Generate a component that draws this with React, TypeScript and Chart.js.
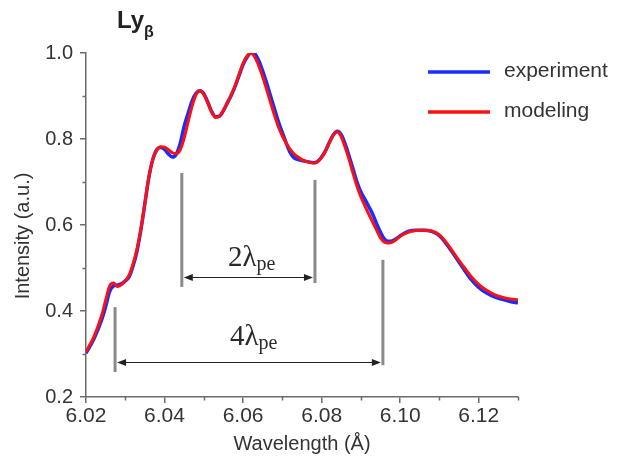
import React, { useEffect, useRef } from "react";
import { Chart, registerables } from "chart.js";
Chart.register(...registerables);

// ---- data ----
const wavelength = [
  6.020, 6.022, 6.024, 6.025, 6.026, 6.027, 6.028, 6.029, 6.030, 6.031, 6.032, 6.033, 6.034, 6.035,
  6.036, 6.037, 6.038, 6.039, 6.040, 6.041, 6.042, 6.043, 6.044, 6.045, 6.046, 6.047, 6.048, 6.049,
  6.050, 6.051, 6.052, 6.053, 6.054, 6.055, 6.056, 6.057, 6.058, 6.059, 6.060, 6.061, 6.062, 6.063,
  6.064, 6.065, 6.066, 6.067, 6.068, 6.069, 6.070, 6.071, 6.072, 6.073, 6.074, 6.075, 6.076, 6.077,
  6.078, 6.079, 6.080, 6.081, 6.082, 6.083, 6.084, 6.085, 6.086, 6.087, 6.088, 6.089, 6.090, 6.091,
  6.092, 6.093, 6.094, 6.095, 6.096, 6.097, 6.098, 6.099, 6.100, 6.102, 6.104, 6.106, 6.108, 6.110,
  6.112, 6.114, 6.116, 6.118, 6.120, 6.122, 6.124, 6.126, 6.128, 6.130,
];

const experiment = [
  0.302, 0.335, 0.380, 0.410, 0.445, 0.458, 0.460, 0.463, 0.470, 0.480, 0.505, 0.540, 0.590, 0.650,
  0.710, 0.752, 0.775, 0.780, 0.776, 0.765, 0.758, 0.765, 0.790, 0.830, 0.860, 0.888, 0.906, 0.912,
  0.905, 0.886, 0.864, 0.852, 0.853, 0.866, 0.884, 0.902, 0.923, 0.948, 0.973, 0.990, 1.000, 0.998,
  0.982, 0.958, 0.930, 0.900, 0.870, 0.840, 0.815, 0.790, 0.768, 0.756, 0.752, 0.750, 0.748, 0.746,
  0.745, 0.748, 0.758, 0.773, 0.793, 0.810, 0.818, 0.810, 0.788, 0.760, 0.730, 0.700, 0.677, 0.660,
  0.643, 0.625, 0.603, 0.583, 0.567, 0.562, 0.563, 0.568, 0.575, 0.585, 0.588, 0.588, 0.585, 0.575,
  0.553, 0.527, 0.500, 0.474, 0.455, 0.442, 0.433, 0.427, 0.422, 0.419,
];

const modeling = [
  0.305, 0.340, 0.390, 0.425, 0.458, 0.465, 0.457, 0.461, 0.470, 0.484, 0.510, 0.545, 0.592, 0.652,
  0.712, 0.752, 0.774, 0.782, 0.781, 0.775, 0.768, 0.766, 0.775, 0.802, 0.840, 0.876, 0.903, 0.912,
  0.903, 0.884, 0.862, 0.850, 0.853, 0.867, 0.884, 0.903, 0.925, 0.951, 0.976, 0.993, 1.000, 0.990,
  0.970, 0.944, 0.915, 0.885, 0.855, 0.828, 0.807, 0.790, 0.776, 0.765, 0.758, 0.752, 0.748, 0.745,
  0.744, 0.747, 0.757, 0.772, 0.792, 0.810, 0.817, 0.805, 0.780, 0.752, 0.720, 0.690, 0.665, 0.645,
  0.625, 0.607, 0.588, 0.570, 0.560, 0.558, 0.560, 0.566, 0.574, 0.583, 0.587, 0.588, 0.586, 0.577,
  0.556, 0.530, 0.505, 0.481, 0.462, 0.448, 0.438, 0.432, 0.428, 0.426,
];

const seriesNames = ["experiment", "modeling"];
const xTickValues = [6.02, 6.04, 6.06, 6.08, 6.1, 6.12];
const xMinorValues = [6.03, 6.05, 6.07, 6.09, 6.11, 6.13];
const yTickValues = [0.2, 0.4, 0.6, 0.8, 1.0];
const yMinorValues = [0.3, 0.5, 0.7, 0.9];

// annotation marks (data coordinates)
const twoLambdaLines = [6.0444, 6.0783];
const twoLambdaTops = [0.721, 0.705];
const twoLambdaBottoms = [0.456, 0.465];
const twoLambdaArrowY = 0.479;
const fourLambdaLines = [6.0274, 6.0956];
const fourLambdaTops = [0.409, 0.519];
const fourLambdaBottoms = [0.258, 0.274];
const fourLambdaArrowY = 0.281;
const labelTwo = { main: "2λ", sub: "pe", x: 6.0622, y: 0.505 };
const labelFour = { main: "4λ", sub: "pe", x: 6.0627, y: 0.321 };

const BLUE = "#1a2cff";
const RED = "#ff1010";
const AXIS = "#6b6b6b";
const TEXT = "#333333";
const SANS = "'Liberation Sans', Arial, sans-serif";
const SERIF = "'Liberation Serif', 'Times New Roman', serif";

const overlay = {
  id: "overlay",
  afterDraw(chart: any) {
    const { ctx, chartArea, scales } = chart;
    const xs = scales.x;
    const ys = scales.y;
    ctx.save();
    // minor ticks
    ctx.strokeStyle = AXIS;
    ctx.lineWidth = 1.5;
    ctx.beginPath();
    for (const v of yMinorValues) {
      const py = Math.round(ys.getPixelForValue(v)) + 0.5;
      ctx.moveTo(chartArea.left - 3.5, py);
      ctx.lineTo(chartArea.left, py);
    }
    for (const v of xMinorValues) {
      const px = Math.round(xs.getPixelForValue(v)) + 0.5;
      ctx.moveTo(px, chartArea.bottom);
      ctx.lineTo(px, chartArea.bottom + 3.5);
    }
    ctx.stroke();

    // vertical marker lines
    ctx.strokeStyle = "#8a8a8a";
    ctx.lineWidth = 3;
    const vlines = (xsv: number[], tops: number[], bots: number[]) => {
      xsv.forEach((xv, i) => {
        const px = xs.getPixelForValue(xv);
        ctx.beginPath();
        ctx.moveTo(px, ys.getPixelForValue(tops[i]));
        ctx.lineTo(px, ys.getPixelForValue(bots[i]));
        ctx.stroke();
      });
    };
    vlines(twoLambdaLines, twoLambdaTops, twoLambdaBottoms);
    vlines(fourLambdaLines, fourLambdaTops, fourLambdaBottoms);

    // double arrows
    const arrow = (x1v: number, x2v: number, yv: number) => {
      const x1 = xs.getPixelForValue(x1v) + 2;
      const x2 = xs.getPixelForValue(x2v) - 2;
      const py = Math.round(ys.getPixelForValue(yv)) + 0.5;
      ctx.strokeStyle = "#222";
      ctx.fillStyle = "#222";
      ctx.lineWidth = 1.2;
      ctx.beginPath();
      ctx.moveTo(x1 + 4, py);
      ctx.lineTo(x2 - 4, py);
      ctx.stroke();
      ctx.beginPath();
      ctx.moveTo(x1, py);
      ctx.lineTo(x1 + 9, py - 3.5);
      ctx.lineTo(x1 + 9, py + 3.5);
      ctx.closePath();
      ctx.fill();
      ctx.beginPath();
      ctx.moveTo(x2, py);
      ctx.lineTo(x2 - 9, py - 3.5);
      ctx.lineTo(x2 - 9, py + 3.5);
      ctx.closePath();
      ctx.fill();
    };
    arrow(twoLambdaLines[0], twoLambdaLines[1], twoLambdaArrowY);
    arrow(fourLambdaLines[0], fourLambdaLines[1], fourLambdaArrowY);

    // lambda labels
    const lambdaLabel = (lab: any) => {
      ctx.fillStyle = "#2a2a2a";
      ctx.textBaseline = "alphabetic";
      ctx.textAlign = "left";
      const mainFont = `29px ${SERIF}`;
      const subFont = `20px ${SERIF}`;
      ctx.font = mainFont;
      const wm = ctx.measureText(lab.main).width;
      ctx.font = subFont;
      const ws = ctx.measureText(lab.sub).width;
      const cx = xs.getPixelForValue(lab.x);
      const by = ys.getPixelForValue(lab.y);
      const sx = cx - (wm + ws) / 2;
      ctx.font = mainFont;
      ctx.fillText(lab.main, sx, by);
      ctx.font = subFont;
      ctx.fillText(lab.sub, sx + wm, by + 4);
    };
    lambdaLabel(labelTwo);
    lambdaLabel(labelFour);

    // legend
    const legendItems = [
      { name: seriesNames[0], color: BLUE, y: 64 },
      { name: seriesNames[1], color: RED, y: 104 },
    ];
    for (const it of legendItems) {
      ctx.strokeStyle = it.color;
      ctx.lineWidth = 3.5;
      ctx.beginPath();
      ctx.moveTo(420, it.y);
      ctx.lineTo(482, it.y);
      ctx.stroke();
      ctx.fillStyle = TEXT;
      ctx.font = `21px ${SANS}`;
      ctx.textBaseline = "middle";
      ctx.textAlign = "left";
      ctx.fillText(it.name, 496, it.y - 1);
    }

    // title Lyβ
    ctx.fillStyle = "#222";
    ctx.textBaseline = "alphabetic";
    ctx.textAlign = "left";
    ctx.font = `bold 24px ${SANS}`;
    ctx.fillText("Ly", 109, 20);
    const wLy = ctx.measureText("Ly").width;
    ctx.font = `bold 16px ${SANS}`;
    ctx.fillText("β", 109 + wLy, 29);

    // y axis title
    ctx.save();
    ctx.translate(15, 228);
    ctx.rotate(-Math.PI / 2);
    ctx.font = `20px ${SANS}`;
    ctx.fillStyle = TEXT;
    ctx.textAlign = "center";
    ctx.textBaseline = "middle";
    ctx.fillText("Intensity (a.u.)", 0, 0);
    ctx.restore();

    ctx.restore();
  },
};

export default function App() {
  const ref = useRef<HTMLCanvasElement | null>(null);
  useEffect(() => {
    if (!ref.current) return;
    const chart = new Chart(ref.current, {
      type: "line",
      data: {
        datasets: [
          {
            label: seriesNames[1],
            data: wavelength.map((x, i) => ({ x, y: modeling[i] })),
            borderColor: RED,
            borderWidth: 3,
            pointRadius: 0,
            cubicInterpolationMode: "monotone",
            fill: false,
          },
          {
            label: seriesNames[0],
            data: wavelength.map((x, i) => ({ x, y: experiment[i] })),
            borderColor: BLUE,
            borderWidth: 3.5,
            pointRadius: 0,
            cubicInterpolationMode: "monotone",
            fill: false,
          },
        ],
      },
      options: {
        animation: false,
        responsive: true,
        maintainAspectRatio: false,
        layout: { padding: { left: 0, top: 45, right: 92, bottom: 0 } },
        plugins: { legend: { display: false }, tooltip: { enabled: false } },
        scales: {
          x: {
            type: "linear",
            min: 6.02,
            max: 6.13,
            afterBuildTicks: (s: any) => {
              s.ticks = xTickValues.map((v) => ({ value: v }));
            },
            afterFit: (s: any) => {
              s.height = 59;
            },
            grid: { drawOnChartArea: false, drawTicks: true, tickLength: 6, color: AXIS, lineWidth: 1.5 },
            border: { display: true, color: AXIS, width: 1.5 },
            ticks: {
              color: TEXT,
              font: { family: SANS, size: 21 },
              padding: 1,
              maxRotation: 0,
              callback: (v: any) => Number(v).toFixed(2),
            },
            title: {
              display: true,
              text: "Wavelength (Å)",
              color: TEXT,
              font: { family: SANS, size: 20 },
              padding: { top: 4, bottom: 0 },
            },
          },
          y: {
            type: "linear",
            min: 0.2,
            max: 1.0,
            afterBuildTicks: (s: any) => {
              s.ticks = yTickValues.map((v) => ({ value: v }));
            },
            afterFit: (s: any) => {
              s.width = 78;
            },
            grid: { drawOnChartArea: false, drawTicks: true, tickLength: 6, color: AXIS, lineWidth: 1.5 },
            border: { display: true, color: AXIS, width: 1.5 },
            ticks: {
              color: TEXT,
              font: { family: SANS, size: 20 },
              padding: 7,
              callback: (v: any) => Number(v).toFixed(1),
            },
          },
        },
      },
      plugins: [overlay],
    } as any);
    return () => chart.destroy();
  }, []);
  return (
    <div style={{ position: "relative", width: 602, height: 448 }}>
      <canvas ref={ref} />
    </div>
  );
}
